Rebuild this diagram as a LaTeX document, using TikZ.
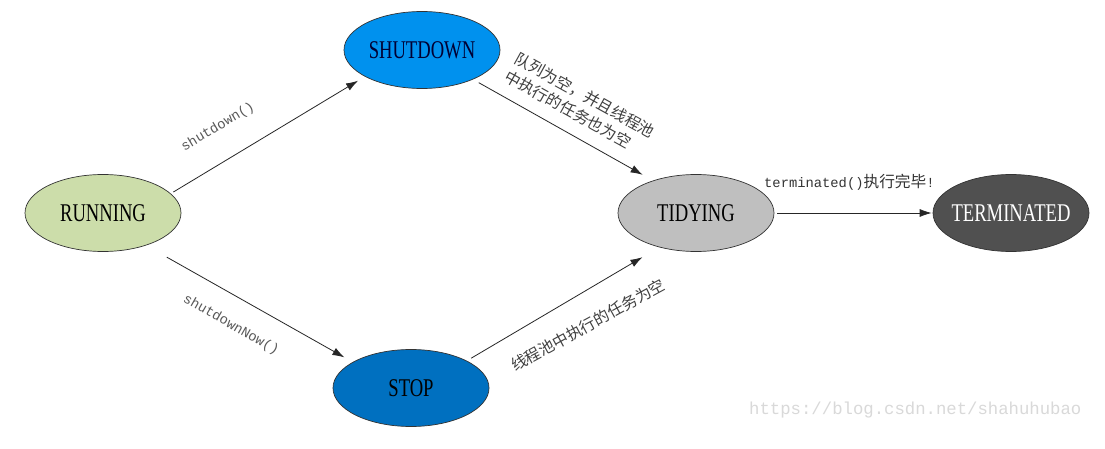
\documentclass[tikz,border=0pt]{standalone}
\usepackage{fontspec}
\usetikzlibrary{shapes.geometric,arrows.meta}
\setmainfont{Liberation Serif}
\newfontfamily\cjk{Noto Sans CJK SC}
\newfontfamily\monof{Liberation Mono}
\newfontfamily\condf[FakeStretch=0.73]{Liberation Serif}
\definecolor{runc}{HTML}{CCDDAA}
\definecolor{shutc}{HTML}{0091EE}
\definecolor{stopc}{HTML}{0070C0}
\definecolor{tidyc}{HTML}{BFBFBF}
\definecolor{termc}{HTML}{505050}
\tikzset{
  state/.style={ellipse, draw=black!80, line width=0.7pt, inner xsep=-12pt, inner ysep=0pt,
    minimum width=156pt, minimum height=77pt,
    font=\condf\fontsize{25.5}{27}\selectfont},
  conn/.style={draw=black!85, line width=0.8pt, -{Latex[length=12pt,width=8pt]}},
  latlbl/.style={text=black!65, font=\monof\fontsize{13.8}{15}\selectfont, inner sep=0pt},
  cjklbl/.style={text=black!75, font=\cjk\fontsize{15.7}{20.5}\selectfont, inner sep=0pt, align=left},
}
\begin{document}
\begin{tikzpicture}[x=1pt,y=-1pt]
\fill[white] (0,0) rectangle (1105,449);
\useasboundingbox (0,0) rectangle (1105,449);

\node[state, fill=runc] (run) at (103,213) {RUNNING};
\node[state, fill=shutc, text=black!80!blue] (shut) at (422,50) {SHUTDOWN};
\node[state, fill=stopc] (stop) at (411,388) {STOP};
\node[state, fill=tidyc] (tidy) at (696,213) {TIDYING};
\node[state, fill=termc, text=white] (term) at (1011,213) {TERMINATED};

\draw[conn, shorten <=3pt, shorten >=8pt] (run.16) -- (shut.205.2);
\draw[conn, shorten <=6.5pt, shorten >=11.8pt] (shut.-30.3) -- (tidy.143);
\draw[conn, shorten <=23.7pt, shorten >=9.5pt] (run.-37.3) -- (stop.156.7);
\draw[conn, shorten <=5pt, shorten >=19.5pt] (stop.26.7) -- (tidy.223.4);
\draw[conn, shorten <=3pt, shorten >=1pt] (tidy.east) -- (term.west);

\node[latlbl, rotate=31] (l1) at (218,127) {shutdown()};
\node[latlbl, rotate=-29.6] (l2) at (231,325) {shutdownNow()};
\node[cjklbl, rotate=-29] (l3) at (580,104) {队列为空，并且线程池\\中执行的任务也为空};
\node[cjklbl, rotate=28.6] (l4) at (588,325) {线程池中执行的任务为空};
\node[anchor=west, inner sep=0pt, text=black!80] (l5) at (764,182)
  {{\monof\fontsize{13.8}{15}\selectfont terminated()}{\cjk\fontsize{15.7}{17}\selectfont 执行完毕}{\monof\fontsize{13.8}{15}\selectfont !}};
\node[anchor=west, inner sep=0pt, text=black!15, font=\monof\fontsize{17.3}{19}\selectfont] (wm) at (749,410) {https://blog.csdn.net/shahuhubao};
\end{tikzpicture}
\end{document}
